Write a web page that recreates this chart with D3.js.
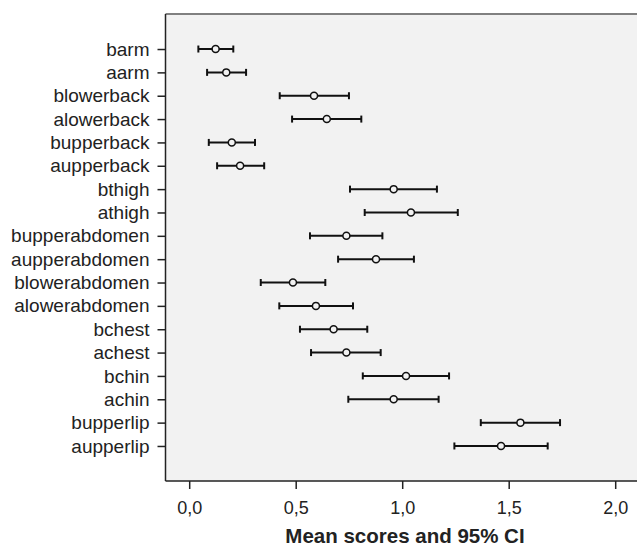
<!DOCTYPE html>
<html>
<head>
<meta charset="utf-8">
<script src="https://cdn.jsdelivr.net/npm/d3@7"></script>
<style>
  body { margin: 0; background: #fff; }
  svg { display: block; font-family: "Liberation Sans", Arial, Helvetica, sans-serif; }
</style>
</head>
<body>
<script>
const cats = ["barm", "aarm", "blowerback", "alowerback", "bupperback", "aupperback",
  "bthigh", "athigh", "bupperabdomen", "aupperabdomen", "blowerabdomen", "alowerabdomen",
  "bchest", "achest", "bchin", "achin", "bupperlip", "aupperlip"];
const means = [0.124, 0.174, 0.586, 0.646, 0.200, 0.239, 0.960, 1.041, 0.738, 0.877,
  0.487, 0.595, 0.678, 0.738, 1.018, 0.960, 1.555, 1.464];
const lows = [0.043, 0.084, 0.425, 0.483, 0.092, 0.131, 0.755, 0.824, 0.567, 0.699,
  0.336, 0.423, 0.520, 0.572, 0.815, 0.747, 1.369, 1.245];
const highs = [0.207, 0.267, 0.750, 0.808, 0.309, 0.352, 1.163, 1.261, 0.907, 1.055,
  0.639, 0.769, 0.836, 0.899, 1.220, 1.171, 1.741, 1.683];
const xTicks = [0, 0.5, 1, 1.5, 2];

const W = 637, H = 548;
const m = {top: 14, left: 165.5, bottom: 67, right: 0};

const svg = d3.select("body")
    .append("svg")
    .attr("width", W)
    .attr("height", H);

const x = d3.scaleLinear().domain([0, 2]).range([189.2, 615.2]);
const y = d3.scalePoint().domain(cats).range([m.top, H - m.bottom]).padding(1.5);

// plot background
svg.append("rect")
    .attr("x", m.left)
    .attr("y", m.top)
    .attr("width", W - m.left)
    .attr("height", H - m.bottom - m.top)
    .attr("fill", "#f2f2f2");

// top frame line
svg.append("line")
    .attr("x1", m.left).attr("x2", W)
    .attr("y1", m.top).attr("y2", m.top)
    .attr("stroke", "#808080")
    .attr("stroke-width", 2);

const data = cats.map((c, i) => ({c, mean: means[i], lo: lows[i], hi: highs[i]}));

const g = svg.append("g");
g.selectAll("line.bar")
    .data(data)
    .enter()
    .append("line")
    .attr("class", "bar")
    .attr("x1", d => x(d.lo)).attr("x2", d => x(d.hi))
    .attr("y1", d => y(d.c)).attr("y2", d => y(d.c))
    .attr("stroke", "#111")
    .attr("stroke-width", 2);

["lo", "hi"].forEach(k => {
  g.selectAll("line.cap-" + k)
      .data(data)
      .enter()
      .append("line")
      .attr("class", "cap-" + k)
      .attr("x1", d => x(d[k])).attr("x2", d => x(d[k]))
      .attr("y1", d => y(d.c) - 3.5).attr("y2", d => y(d.c) + 3.5)
      .attr("stroke", "#111")
      .attr("stroke-width", 2);
});

g.selectAll("circle")
    .data(data)
    .enter()
    .append("circle")
    .attr("cx", d => x(d.mean))
    .attr("cy", d => y(d.c))
    .attr("r", 3.5)
    .attr("fill", "#f2f2f2")
    .attr("stroke", "#111")
    .attr("stroke-width", 1.5);

// axes
const yAxis = svg.append("g")
    .attr("transform", `translate(${m.left}, 0)`)
    .call(d3.axisLeft(y).tickSize(8).tickPadding(8).tickSizeOuter(0));
yAxis.select(".domain").attr("d", `M0,${m.top}V${H - m.bottom}`);

const xAxis = svg.append("g")
    .attr("transform", `translate(0, ${H - m.bottom})`)
    .call(d3.axisBottom(x).tickValues(xTicks).tickSize(8).tickPadding(12)
      .tickFormat(d => d3.format(".1f")(d).replace(".", ",")));
xAxis.select(".domain").attr("d", `M${m.left},0H${W}`);

[yAxis, xAxis].forEach(a => {
  a.select(".domain").attr("stroke", "#222").attr("stroke-width", 1.5);
  a.selectAll(".tick line").attr("stroke", "#222").attr("stroke-width", 1.5);
  a.selectAll(".tick text")
      .attr("fill", "#222")
      .style("font-family", "'Liberation Sans', Arial, Helvetica, sans-serif");
});
yAxis.selectAll(".tick text").style("font-size", "19px");
xAxis.selectAll(".tick text").style("font-size", "18px");

svg.append("text")
    .attr("x", 405)
    .attr("y", 543)
    .attr("text-anchor", "middle")
    .attr("fill", "#222")
    .style("font-size", "20.5px")
    .style("font-weight", "bold")
    .text("Mean scores and 95% CI");
</script>
</body>
</html>
